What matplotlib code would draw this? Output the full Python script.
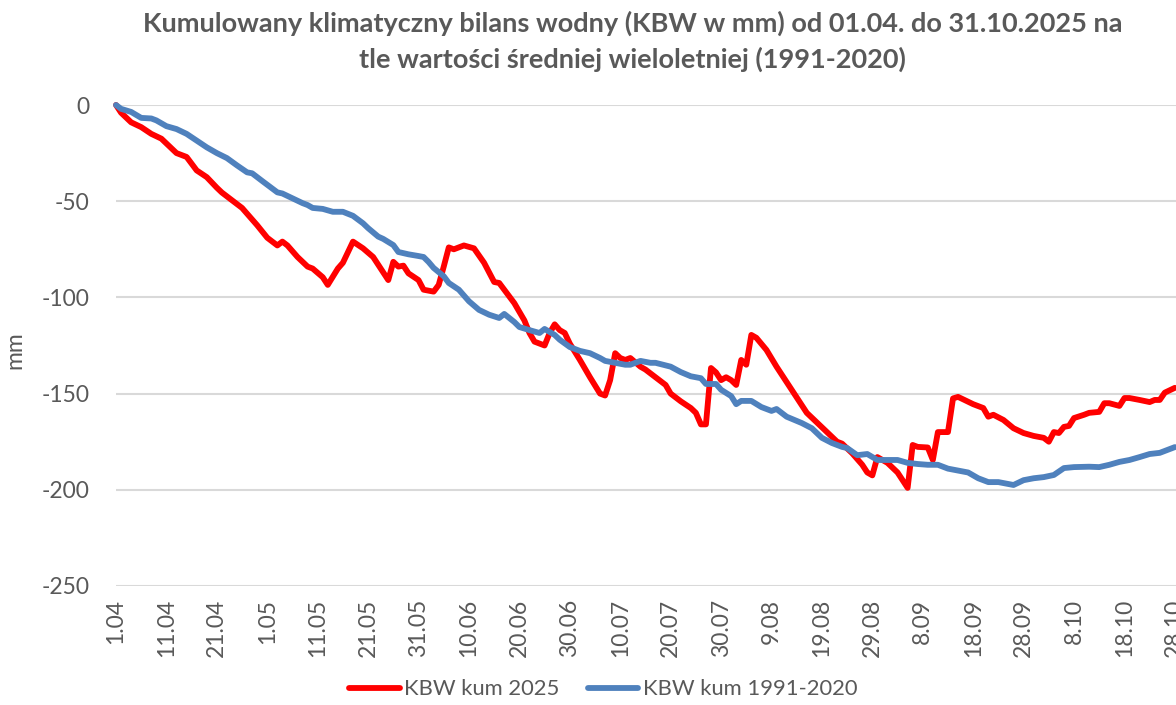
import matplotlib
matplotlib.use("Agg")
import matplotlib.pyplot as plt

plt.rcParams['font.family'] = ['Lato', 'DejaVu Sans']
plt.rcParams['axes.unicode_minus'] = False

# days counted from 1.04.2025 (mm)
red_day = [0, 1, 3, 5, 7, 9, 10, 11, 12, 14, 16, 18, 20, 21, 23, 25, 28, 30, 32, 33,
           34, 36, 38, 39, 41, 42, 44, 45, 47, 49, 51, 52, 54, 55, 56, 57, 58, 60, 61, 63,
           64, 65, 66, 67, 69, 71, 73, 75, 76, 79, 81, 82, 83, 85, 86, 87, 88, 89, 90, 92,
           94, 96, 97, 98, 99, 100, 101, 102, 104, 105, 107, 109, 110, 112, 114, 115, 116, 117, 118, 119,
           120, 121, 122, 123, 124, 125, 126, 127, 129, 131, 133, 135, 137, 139, 141, 143, 144, 146, 148, 149,
           150, 151, 153, 155, 156, 157, 158, 159, 161, 162, 163, 165, 166, 167, 170, 172, 173, 174, 176, 178,
           180, 182, 184, 185, 186, 187, 188, 189, 190, 192, 193, 195, 196, 197, 199, 200, 201, 203, 205, 206,
           207, 208, 210]
red_kbw = [0, -4, -9, -11.5, -15, -17.5, -20, -22.5, -25, -27, -34, -37.5, -43, -45.5, -49.5, -53.5, -62.5, -69, -73, -71,
           -73, -79, -84, -85, -89.5, -93.5, -85, -82, -71, -74.5, -79, -83, -91, -81.5, -84, -83.5, -87.5, -91, -96, -97,
           -93.5, -84, -74, -75, -73, -74.5, -82, -92, -92.5, -103, -112, -118.5, -123, -125, -118.5, -114, -117, -118.5, -124, -132.5,
           -141.5, -150, -151, -143, -129, -131.5, -132.5, -131.5, -136, -137.5, -141.5, -145.5, -150, -154, -157.5, -160, -166, -166, -136.7, -139,
           -143, -141.5, -143, -145.5, -132.5, -135, -119.5, -121, -127.3, -136, -144, -152, -160, -165, -170, -175, -176, -181, -187, -191,
           -192.5, -183, -186, -191, -195, -199, -176.7, -177.7, -178, -184.5, -170, -170, -152.5, -151.7, -155.5, -157.5, -162, -161, -163.7, -168,
           -170.5, -172, -173, -175, -170, -170.5, -167.3, -166.8, -162.7, -161, -160, -159.5, -155, -155, -156.4, -152.3, -152.3, -153.3, -154.4, -153.3,
           -153.3, -149.5, -147]

blue_day = [0, 1, 3, 5, 7, 8, 10, 12, 14, 16, 18, 20, 22, 24, 26, 27, 29, 32, 33, 35,
            37, 38, 39, 41, 43, 45, 47, 49, 50, 52, 53, 55, 56, 58, 60, 61, 62, 63, 65, 66,
            68, 70, 72, 74, 76, 77, 79, 80, 82, 84, 85, 87, 88, 90, 92, 94, 96, 97, 99, 101,
            102, 104, 106, 107, 110, 112, 114, 116, 117, 119, 120, 122, 123, 124, 126, 128, 130, 131, 133, 136,
            138, 140, 142, 144, 145, 147, 149, 151, 153, 155, 157, 159, 161, 163, 165, 167, 169, 171, 173, 175,
            177, 178, 180, 182, 184, 186, 188, 190, 193, 195, 197, 199, 201, 203, 205, 207, 208, 210]
blue_kbw = [0, -2, -3.6, -6.7, -7, -8, -11, -12.5, -15, -18.5, -22, -25, -27.6, -31.4, -35, -35.5, -39.5, -45.4, -46, -48.5,
            -51, -52, -53.5, -54, -55.5, -55.5, -57.6, -61.5, -64, -68.4, -69.6, -72.8, -76.4, -77.6, -78.5, -79, -81.6, -84.7, -89, -92.5,
            -96, -102, -106.5, -109, -110.7, -108.6, -112.8, -115.4, -117, -118.5, -116.4, -119.5, -122, -125.8, -127.8, -129, -131.5, -133, -134, -135,
            -135, -133, -134, -134, -136, -138.8, -141, -142, -145, -145, -148, -151.3, -155.5, -153.8, -153.8, -157, -159, -158, -162, -165.3,
            -168, -173, -175.7, -177.7, -178.3, -182, -181.4, -184.5, -184.5, -184.5, -186, -186.6, -187, -187, -189, -190, -191, -194, -196, -196,
            -197, -197.5, -195, -194, -193.4, -192.3, -188.7, -188.2, -188, -188.2, -187, -185.5, -184.5, -183, -181.4, -180.8, -179.8, -177.8]

tick_days = list(range(0, 211, 10))
tick_labels = ["1.04", "11.04", "21.04", "1.05", "11.05", "21.05", "31.05", "10.06", "20.06", "30.06", "10.07",
               "20.07", "30.07", "9.08", "19.08", "29.08", "8.09", "18.09", "28.09", "8.10", "18.10", "28.10"]

gray = '#595959'

fig = plt.figure(figsize=(11.76, 7.05), dpi=100)
# plot area runs past the right edge, like the cropped original
ax = fig.add_axes([116 / 1176, 1 - 586 / 705, (1190 - 116) / 1176, (586 - 105) / 705])

ax.plot(red_day, red_kbw, color='#FF0000', lw=4.2, solid_joinstyle='round',
        solid_capstyle='round', label='KBW kum 2025', clip_on=False, zorder=3)
ax.plot(blue_day, blue_kbw, color='#4F81BD', lw=4.2, solid_joinstyle='round',
        solid_capstyle='round', label='KBW kum 1991-2020', clip_on=False, zorder=3)

ax.set_xlim(0, 213)
ax.set_ylim(-250, 0)
ax.set_yticks([0, -50, -100, -150, -200, -250])
ax.set_xticks(tick_days)
ax.set_xticklabels(tick_labels, rotation=90)
ax.grid(axis='y', color='#D9D9D9', lw=1.5)
ax.set_axisbelow(True)
for s in ax.spines.values():
    s.set_visible(False)
ax.tick_params(axis='both', length=0, colors=gray, labelsize=16.5)
ax.tick_params(axis='y', pad=19)
ax.tick_params(axis='x', pad=9)
ax.set_ylabel('mm', color=gray, fontsize=16.5)
ax.yaxis.set_label_coords((25 - 116) / 1074, 0.49)

fig.suptitle('Kumulowany klimatyczny bilans wodny (KBW w mm) od 01.04. do 31.10.2025 na\n'
             'tle wartości średniej wieloletniej (1991-2020)',
             fontsize=19.5, fontweight='bold', color=gray, x=0.538, y=0.985, linespacing=1.5)

fig.legend(loc='center', bbox_to_anchor=(0.513, 0.022), ncol=2, frameon=False,
           fontsize=15.8, handlelength=2.3, columnspacing=1.3, handletextpad=0.2,
           labelcolor=gray)

fig.savefig('out.png', dpi=100)
